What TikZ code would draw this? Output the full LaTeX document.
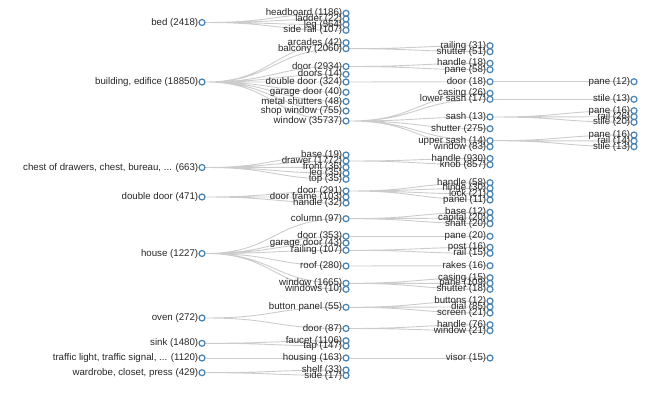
\documentclass[tikz,border=0pt]{standalone}
\usepackage{fontspec}
\setmainfont{Liberation Sans}
\definecolor{steel}{RGB}{70,130,180}
\definecolor{linkgray}{RGB}{204,204,204}
\usetikzlibrary{calc,backgrounds}

\begin{document}
\begin{tikzpicture}[x=1pt, y=-1pt,
  pt/.style={circle, draw=steel, fill=white, line width=1.2pt,
             minimum size=6pt, inner sep=0pt, label distance=2.2pt},
  lbl/.style={font=\fontsize{9.7}{11}\selectfont, text=black!85, inner sep=0pt},
  link/.style={draw=linkgray, line width=0.9pt,
               to path={.. controls ($(\tikztostart)+(72,0)$) and ($(\tikztotarget)+(-72,0)$) .. (\tikztotarget)}}
]
\useasboundingbox (0,0) rectangle (665,396);

% Objects
\node[pt, label={[lbl]left:bed (2418)}]                                (bed)    at (202,22.5)  {};
\node[pt, label={[lbl]left:{building, edifice (18850)}}]               (bldg)   at (202,82)    {};
\node[pt, label={[lbl]left:{chest of drawers, chest, bureau, ... (663)}}] (chest) at (202,167.5) {};
\node[pt, label={[lbl]left:double door (471)}]                         (ddoor)  at (202,197)   {};
\node[pt, label={[lbl]left:house (1227)}]                              (house)  at (202,253.5) {};
\node[pt, label={[lbl]left:oven (272)}]                                (oven)   at (202,318)   {};
\node[pt, label={[lbl]left:sink (1480)}]                               (sink)   at (202,343.3) {};
\node[pt, label={[lbl]left:{traffic light, traffic signal, ... (1120)}}] (tlight) at (202,358) {};
\node[pt, label={[lbl]left:{wardrobe, closet, press (429)}}]           (wrobe)  at (202,372.7) {};

% Parts
\node[pt, label={[lbl]left:headboard (1186)}]     (hboard)  at (346,13.3)  {};
\node[pt, label={[lbl]left:ladder (22)}]          (ladder)  at (346,19)    {};
\node[pt, label={[lbl]left:leg (564)}]            (bleg)    at (346,24.7)  {};
\node[pt, label={[lbl]left:side rail (107)}]      (srail)   at (346,30.3)  {};
\node[pt, label={[lbl]left:arcades (42)}]         (arcade)  at (346,42.7)  {};
\node[pt, label={[lbl]left:balcony (2060)}]       (balc)    at (346,48.7)  {};
\node[pt, label={[lbl]left:door (2934)}]          (bdoor)   at (346,66.5)  {};
\node[pt, label={[lbl]left:doors (14)}]           (doors)   at (346,74.3)  {};
\node[pt, label={[lbl]left:double door (324)}]    (bddoor)  at (346,82)    {};
\node[pt, label={[lbl]left:garage door (40)}]     (bgdoor)  at (346,92.3)  {};
\node[pt, label={[lbl]left:metal shutters (48)}]  (mshut)   at (346,101.5) {};
\node[pt, label={[lbl]left:shop window (755)}]    (swin)    at (346,111)   {};
\node[pt, label={[lbl]left:window (35737)}]       (bwin)    at (346,121)   {};
\node[pt, label={[lbl]left:base (19)}]            (cbase)   at (346,155)   {};
\node[pt, label={[lbl]left:drawer (1772)}]        (drawer)  at (346,161)   {};
\node[pt, label={[lbl]left:front (36)}]           (front)   at (346,167.3) {};
\node[pt, label={[lbl]left:leg (35)}]             (cleg)    at (346,173.3) {};
\node[pt, label={[lbl]left:top (35)}]             (ctop)    at (346,179.3) {};
\node[pt, label={[lbl]left:door (291)}]           (dddoor)  at (346,191)   {};
\node[pt, label={[lbl]left:door frame (103)}]     (dframe)  at (346,197)   {};
\node[pt, label={[lbl]left:handle (32)}]          (dhandle) at (346,203)   {};
\node[pt, label={[lbl]left:column (97)}]          (column)  at (346,218.7) {};
\node[pt, label={[lbl]left:door (353)}]           (hdoor)   at (346,236.3) {};
\node[pt, label={[lbl]left:garage door (43)}]     (hgdoor)  at (346,243)   {};
\node[pt, label={[lbl]left:railing (107)}]        (hrail)   at (346,250.3) {};
\node[pt, label={[lbl]left:roof (280)}]           (roof)    at (346,266)   {};
\node[pt, label={[lbl]left:window (1665)}]        (hwin)    at (346,283.3) {};
\node[pt, label={[lbl]left:windows (10)}]         (hwins)   at (346,289.3) {};
\node[pt, label={[lbl]left:button panel (55)}]    (bpanel)  at (346,307.3) {};
\node[pt, label={[lbl]left:door (87)}]            (odoor)   at (346,328.5) {};
\node[pt, label={[lbl]left:faucet (1106)}]        (faucet)  at (346,340.7) {};
\node[pt, label={[lbl]left:tap (147)}]            (tap)     at (346,346)   {};
\node[pt, label={[lbl]left:housing (163)}]        (housing) at (346,358)   {};
\node[pt, label={[lbl]left:shelf (33)}]           (shelf)   at (346,370)   {};
\node[pt, label={[lbl]left:side (17)}]            (side)    at (346,375.5) {};

% Parts of parts
\node[pt, label={[lbl]left:railing (31)}]   (railing) at (490,45.7)  {};
\node[pt, label={[lbl]left:shutter (51)}]   (bshut)   at (490,51.7)  {};
\node[pt, label={[lbl]left:handle (18)}]    (bdhnd)   at (490,63.3)  {};
\node[pt, label={[lbl]left:pane (58)}]      (bdpane)  at (490,69.7)  {};
\node[pt, label={[lbl]left:door (18)}]      (dddr)    at (490,81.7)  {};
\node[pt, label={[lbl]left:casing (26)}]    (wcase)   at (490,93.3)  {};
\node[pt, label={[lbl]left:lower sash (17)}] (lsash)  at (490,99.3)  {};
\node[pt, label={[lbl]left:sash (13)}]      (sash)    at (490,117)   {};
\node[pt, label={[lbl]left:shutter (275)}]  (wshut)   at (490,128.7) {};
\node[pt, label={[lbl]left:upper sash (14)}] (usash)  at (490,140.7) {};
\node[pt, label={[lbl]left:window (83)}]    (wwin)    at (490,146.7) {};
\node[pt, label={[lbl]left:handle (930)}]   (drhnd)   at (490,158.5) {};
\node[pt, label={[lbl]left:knob (857)}]     (knob)    at (490,164.7) {};
\node[pt, label={[lbl]left:handle (58)}]    (dhnd)    at (490,182.7) {};
\node[pt, label={[lbl]left:hinge (30)}]     (hinge)   at (490,188.3) {};
\node[pt, label={[lbl]left:lock (21)}]      (lock)    at (490,194)   {};
\node[pt, label={[lbl]left:panel (11)}]     (panel)   at (490,200)   {};
\node[pt, label={[lbl]left:base (12)}]      (colbase) at (490,212.3) {};
\node[pt, label={[lbl]left:capital (20)}]   (capital) at (490,218)   {};
\node[pt, label={[lbl]left:shaft (20)}]     (shaft)   at (490,223.7) {};
\node[pt, label={[lbl]left:pane (20)}]      (hdpane)  at (490,236.3) {};
\node[pt, label={[lbl]left:post (16)}]      (post)    at (490,247.3) {};
\node[pt, label={[lbl]left:rail (15)}]      (hrl)     at (490,253.3) {};
\node[pt, label={[lbl]left:rakes (16)}]     (rakes)   at (490,265.7) {};
\node[pt, label={[lbl]left:casing (15)}]    (hcase)   at (490,277.7) {};
\node[pt, label={[lbl]left:pane (109)}]     (hwpane)  at (490,283.3) {};
\node[pt, label={[lbl]left:shutter (18)}]   (hshut)   at (490,289.3) {};
\node[pt, label={[lbl]left:buttons (12)}]   (buttons) at (490,301)   {};
\node[pt, label={[lbl]left:dial (85)}]      (dial)    at (490,306.9) {};
\node[pt, label={[lbl]left:screen (21)}]    (screen)  at (490,313)   {};
\node[pt, label={[lbl]left:handle (76)}]    (ohnd)    at (490,324.7) {};
\node[pt, label={[lbl]left:window (21)}]    (owin)    at (490,330.7) {};
\node[pt, label={[lbl]left:visor (15)}]     (visor)   at (490,358)   {};

% Deepest level
\node[pt, label={[lbl]left:pane (12)}]   (ddpane) at (634,81.7)  {};
\node[pt, label={[lbl]left:stile (13)}]  (lstile) at (634,99.3)  {};
\node[pt, label={[lbl]left:pane (16)}]   (spane)  at (634,110.7) {};
\node[pt, label={[lbl]left:rail (26)}]   (srl)    at (634,116.7) {};
\node[pt, label={[lbl]left:stile (20)}]  (sstile) at (634,122.3) {};
\node[pt, label={[lbl]left:pane (16)}]   (upane)  at (634,135)   {};
\node[pt, label={[lbl]left:rail (14)}]   (url)    at (634,141)   {};
\node[pt, label={[lbl]left:stile (13)}]  (ustile) at (634,146.7) {};

% Links
\begin{scope}[on background layer]
\draw[link] (bed) to (hboard) (bed) to (ladder) (bed) to (bleg) (bed) to (srail);
\draw[link] (bldg) to (arcade) (bldg) to (balc) (bldg) to (bdoor) (bldg) to (doors)
            (bldg) to (bddoor) (bldg) to (bgdoor) (bldg) to (mshut) (bldg) to (swin) (bldg) to (bwin);
\draw[link] (chest) to (cbase) (chest) to (drawer) (chest) to (front) (chest) to (cleg) (chest) to (ctop);
\draw[link] (ddoor) to (dddoor) (ddoor) to (dframe) (ddoor) to (dhandle);
\draw[link] (house) to (column) (house) to (hdoor) (house) to (hgdoor) (house) to (hrail)
            (house) to (roof) (house) to (hwin) (house) to (hwins);
\draw[link] (oven) to (bpanel) (oven) to (odoor);
\draw[link] (sink) to (faucet) (sink) to (tap);
\draw[link] (tlight) to (housing);
\draw[link] (wrobe) to (shelf) (wrobe) to (side);

\draw[link] (balc) to (railing) (balc) to (bshut);
\draw[link] (bdoor) to (bdhnd) (bdoor) to (bdpane);
\draw[link] (bddoor) to (dddr);
\draw[link] (bwin) to (wcase) (bwin) to (lsash) (bwin) to (sash) (bwin) to (wshut)
            (bwin) to (usash) (bwin) to (wwin);
\draw[link] (drawer) to (drhnd) (drawer) to (knob);
\draw[link] (dddoor) to (dhnd) (dddoor) to (hinge) (dddoor) to (lock) (dddoor) to (panel);
\draw[link] (column) to (colbase) (column) to (capital) (column) to (shaft);
\draw[link] (hdoor) to (hdpane);
\draw[link] (hrail) to (post) (hrail) to (hrl);
\draw[link] (roof) to (rakes);
\draw[link] (hwin) to (hcase) (hwin) to (hwpane) (hwin) to (hshut);
\draw[link] (bpanel) to (buttons) (bpanel) to (dial) (bpanel) to (screen);
\draw[link] (odoor) to (ohnd) (odoor) to (owin);
\draw[link] (housing) to (visor);

\draw[link] (dddr) to (ddpane);
\draw[link] (lsash) to (lstile);
\draw[link] (sash) to (spane) (sash) to (srl) (sash) to (sstile);
\draw[link] (usash) to (upane) (usash) to (url) (usash) to (ustile);
\end{scope}
\end{tikzpicture}
\end{document}
